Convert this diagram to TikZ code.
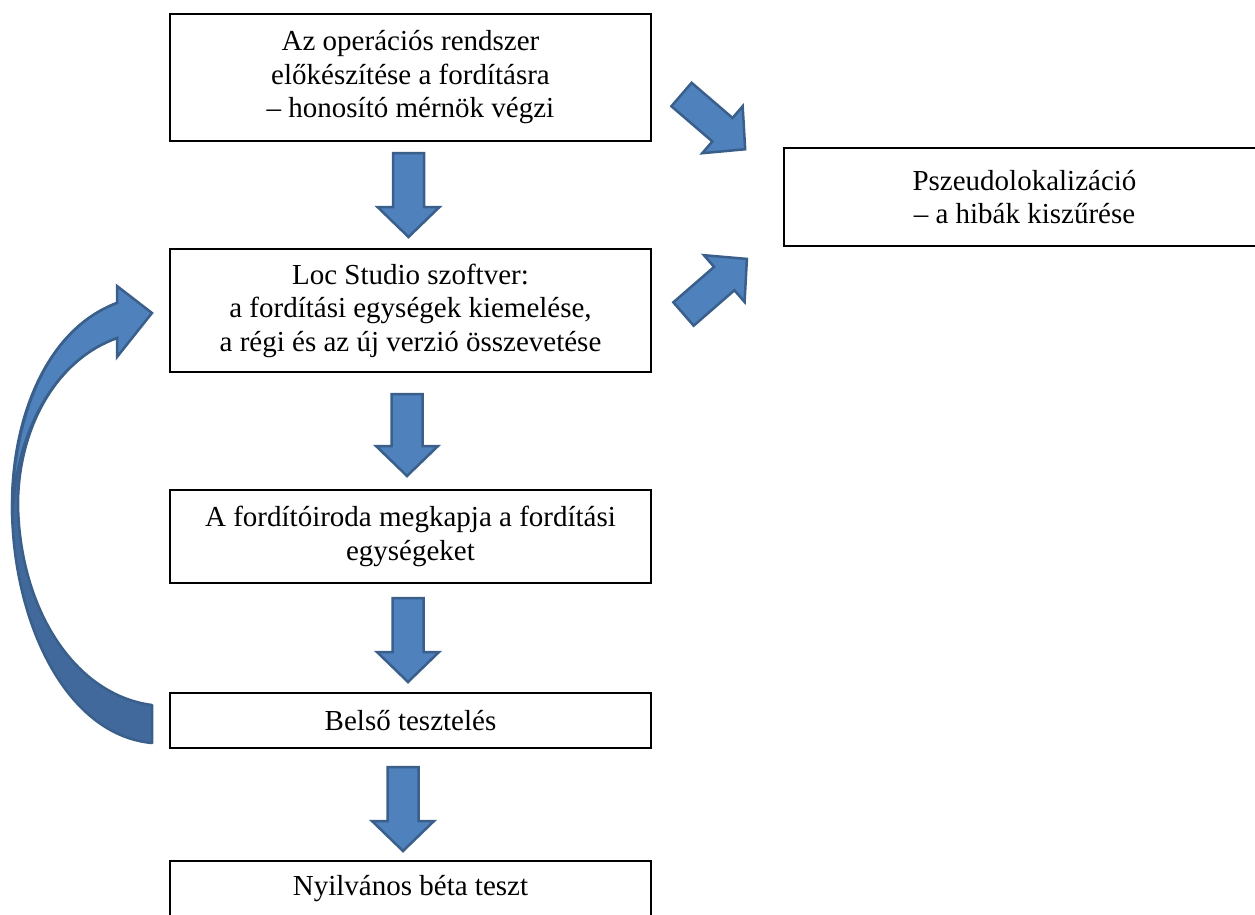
\documentclass[tikz,border=0pt]{standalone}
\usepackage{fontspec}
\setmainfont{Liberation Serif}
\definecolor{arrowfill}{HTML}{4F81BD}
\definecolor{arrowline}{HTML}{3A5F8B}
\definecolor{curvdarkfill}{HTML}{41699C}
\newcommand\blockarr[3]{%
  \draw[blockarrow, shift={#1}, rotate=#2]
    (0,-15.5) -- ({#3-30},-15.5) -- ({#3-30},-31) -- (#3,0) --
    ({#3-30},31) -- ({#3-30},15.5) -- (0,15.5) -- cycle;}
\begin{document}
\begin{tikzpicture}[x=1pt,y=-1pt,
  box/.style={draw=black, line width=1.8pt, fill=white, minimum width=481pt,
    inner sep=0pt, align=center, font=\fontsize{29}{33.5}\selectfont},
  blockarrow/.style={fill=arrowfill, draw=arrowline, line width=2.5pt, line join=miter},
  curvdark/.style={fill=curvdarkfill, draw=arrowline, line width=2.5pt, line join=round},
  curvlight/.style={fill=arrowfill, draw=arrowline, line width=2.5pt, line join=miter},
]
\useasboundingbox (0,0) rectangle (1255,914);
\clip (0,0) rectangle (1255,914);

% boxes
\node[box, minimum height=127pt] (b1) at (410.5,77.5)
  {Az operációs rendszer\\előkészítése a fordításra\\– honosító mérnök végzi};
\node[box, minimum height=123pt] (b2) at (410.5,310.5)
  {Loc Studio szoftver:\\a fordítási egységek kiemelése,\\a régi és az új verzió összevetése};
\node[box, minimum height=93pt] (b3) at (410.5,536.5)
  {A fordítóiroda megkapja a fordítási\\egységeket};
\node[box, minimum height=55pt] (b4) at (410.5,720.5) {Belső tesztelés};
\node[box, minimum height=55pt] (b5) at (410.5,888.5) {Nyilvános béta teszt};
\node[box, minimum height=98pt] (ps) at (1024.5,197)
  {Pszeudolokalizáció\\– a hibák kiszűrése};

% arrow tails
\coordinate (d1) at (408.5,153);
\coordinate (d2) at (407,394);
\coordinate (d3) at (408,598);
\coordinate (d4) at (403,767);
\coordinate (r1) at (681.5,94.5);
\coordinate (r2) at (683.5,314);

\blockarr{(d1)}{-90}{84}
\blockarr{(d2)}{-90}{82}
\blockarr{(d3)}{-90}{84}
\blockarr{(d4)}{-90}{84}
\blockarr{(r1)}{-40.7}{84}
\blockarr{(r2)}{41}{84}

% curved arrow (Belső tesztelés back to Loc Studio)
\draw[curvdark] (117,303) .. controls (45,330) and (12,420) .. (12,505)
  .. controls (12,620) and (65,735) .. (152,743) -- (152,705)
  .. controls (75,695) and (20,610) .. (18,505)
  .. controls (18,430) and (55,360) .. (117,338) -- cycle;
\draw[curvlight] (12,515) .. controls (12,420) and (45,330) .. (117,303)
  -- (117,286) -- (152,313) -- (117,357) -- (117,338)
  .. controls (60,358) and (22,420) .. (14,495) -- cycle;
\end{tikzpicture}
\end{document}
